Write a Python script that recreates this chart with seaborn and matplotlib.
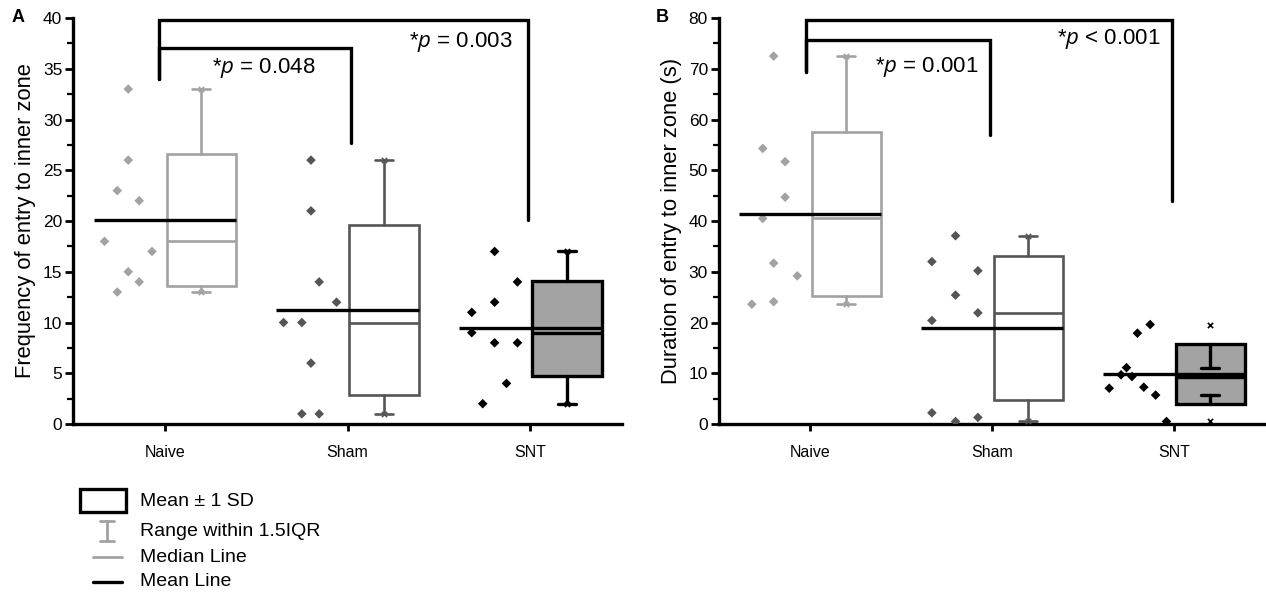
import seaborn as sns
import matplotlib.pyplot as plt
import pandas as pd
import numpy as np
from matplotlib.patches import Rectangle
from matplotlib.ticker import MultipleLocator

groups = ['Naive', 'Sham', 'SNT']

# Panel A: frequency of entry to inner zone
freq_naive = [33, 26, 23, 22, 18, 17, 15, 14, 13]
freq_sham = [26, 21, 14, 12, 10, 10, 6, 1, 1]
freq_snt = [17, 14, 12, 11, 9, 8, 8, 4, 2]

# Panel B: duration of entry to inner zone (s)
dur_naive = [72.5, 54.3, 51.7, 44.7, 40.5, 31.7, 29.2, 24.1, 23.6]
dur_sham = [37.1, 32.0, 30.2, 25.4, 21.9, 20.4, 2.2, 1.3, 0.5]
dur_snt = [19.6, 17.9, 11.1, 9.7, 9.35, 7.25, 7.05, 5.7, 0.5]

# horizontal spread of the raw points (left of each box)
jit_freq_naive = [-0.20, -0.20, -0.26, -0.14, -0.33, -0.07, -0.20, -0.14, -0.26]
jit_freq_sham = [-0.20, -0.20, -0.155, -0.06, -0.35, -0.25, -0.20, -0.25, -0.155]
jit_freq_snt = [-0.195, -0.07, -0.195, -0.32, -0.32, -0.195, -0.07, -0.13, -0.26]
jit_dur_naive = [-0.20, -0.26, -0.137, -0.137, -0.26, -0.20, -0.07, -0.20, -0.32]
jit_dur_sham = [-0.20, -0.33, -0.077, -0.20, -0.077, -0.33, -0.33, -0.077, -0.20]
jit_dur_snt = [-0.13, -0.20, -0.26, -0.29, -0.23, -0.165, -0.355, -0.10, -0.04]

p_labels_a = ['*$p$ = 0.048', '*$p$ = 0.003']
p_labels_b = ['*$p$ = 0.001', '*$p$ < 0.001']

sns.set_style("white")
plt.rcParams['font.family'] = ['Liberation Sans', 'DejaVu Sans']
plt.rcParams['mathtext.fontset'] = 'custom'
plt.rcParams['mathtext.it'] = 'Open Sans:italic'
plt.rcParams['mathtext.rm'] = 'Open Sans'
for key in ['text.color', 'axes.labelcolor', 'xtick.color', 'ytick.color']:
    plt.rcParams[key] = 'black'

LIGHT, DARK, BLACK = '#a2a2a2', '#555555', '#000000'
edge_cols = [LIGHT, DARK, BLACK]
face_cols = ['white', 'white', '#a3a3a3']
pt_cols = [LIGHT, DARK, BLACK]


def box_stats(vals):
    v = np.asarray(vals, float)
    m, sd = v.mean(), v.std(ddof=1)
    q1, q3 = np.percentile(v, [25, 75])
    iqr = q3 - q1
    inside = v[(v >= q1 - 1.5 * iqr) & (v <= q3 + 1.5 * iqr)]
    return dict(med=np.median(v), q1=m - sd, q3=m + sd, mean=m,
                whislo=inside.min(), whishi=inside.max(), fliers=[])


def draw_panel(ax, series, jitters, ymax, major, ylabel):
    rows = []
    for i, (vals, jit) in enumerate(zip(series, jitters)):
        for v, j in zip(vals, jit):
            rows.append(dict(x=i + j, y=v, group=groups[i]))
    df = pd.DataFrame(rows)
    sns.scatterplot(data=df, x='x', y='y', hue='group', palette=pt_cols,
                    marker='D', s=24, edgecolor='none', legend=False,
                    ax=ax, zorder=3)
    for i, vals in enumerate(series):
        st = box_stats(vals)
        ec = edge_cols[i]
        lw = 2.4 if i == 2 else 1.9
        ax.bxp([st], positions=[i + 0.2], widths=0.38, patch_artist=True,
               showfliers=False, capwidths=0.1,
               boxprops=dict(facecolor=face_cols[i], edgecolor=ec, linewidth=lw),
               whiskerprops=dict(color=ec, linewidth=lw),
               capprops=dict(color=ec, linewidth=lw),
               medianprops=dict(color=ec, linewidth=lw),
               manage_ticks=False, zorder=2)
        v = np.asarray(vals, float)
        ax.scatter([i + 0.2, i + 0.2], [v.min(), v.max()], marker='x',
                   s=14, color=ec, linewidths=1.2, zorder=4)
        ax.hlines(st['mean'], i - 0.39, i + 0.39, color=BLACK, linewidth=2.4, zorder=5)

    ax.set_xlim(-0.5, 2.5)
    ax.set_ylim(0, ymax)
    ax.set_xticks(range(3))
    ax.set_xticklabels(groups, fontsize=11.5)
    ax.yaxis.set_major_locator(MultipleLocator(major))
    ax.yaxis.set_minor_locator(MultipleLocator(major / 2))
    ax.tick_params(axis='y', which='major', direction='out', length=6, width=2,
                   labelsize=12.5, pad=2, left=True)
    ax.tick_params(axis='y', which='minor', direction='out', length=4, width=1.6, left=True)
    ax.tick_params(axis='x', which='major', direction='out', length=5, width=2,
                   pad=10, bottom=True)
    ax.set_xlabel('')
    ax.set_ylabel(ylabel, fontsize=15.8, labelpad=5)
    for side in ['top', 'right']:
        ax.spines[side].set_visible(False)
    for side in ['left', 'bottom']:
        ax.spines[side].set_linewidth(2.4)
        ax.spines[side].set_color(BLACK)


def bracket(ax, x0, x1, y, y0, y1):
    ax.plot([x0, x0, x1, x1], [y0, y, y, y1], color=BLACK, linewidth=2.4,
            clip_on=False, solid_joinstyle='miter', zorder=6)


fig = plt.figure(figsize=(12.66, 5.95), dpi=100)

# legend drawn in figure pixel space
lax = fig.add_axes([0, 0, 1, 1])
lax.set_xlim(0, 1266)
lax.set_ylim(595, 0)
lax.axis('off')
lax.add_patch(Rectangle((80, 489), 46, 23, facecolor='white', edgecolor=BLACK, linewidth=2.4))
lax.plot([107, 107], [521, 541], color=LIGHT, linewidth=2)
lax.plot([100, 114], [521, 521], color=LIGHT, linewidth=2)
lax.plot([100, 114], [541, 541], color=LIGHT, linewidth=2)
lax.plot([93, 122], [557, 557], color=LIGHT, linewidth=2)
lax.plot([93, 122], [582, 582], color=BLACK, linewidth=2.4)
for yy, txt in zip([501, 531, 557, 582],
                   ['Mean ± 1 SD', 'Range within 1.5IQR', 'Median Line', 'Mean Line']):
    lax.text(140, yy, txt, fontsize=14, va='center', ha='left')

axA = fig.add_axes([0.058, 0.2874, 0.433, 0.6823])
axB = fig.add_axes([0.568, 0.2874, 0.431, 0.6823])

draw_panel(axA, [freq_naive, freq_sham, freq_snt],
           [jit_freq_naive, jit_freq_sham, jit_freq_snt], 40, 5,
           'Frequency of entry to inner zone')
draw_panel(axB, [dur_naive, dur_sham, dur_snt],
           [jit_dur_naive, jit_dur_sham, jit_dur_snt], 80, 10,
           'Duration of entry to inner zone (s)')

bracket(axA, -0.03, 1.99, 39.8, 34.0, 20.1)
bracket(axA, -0.03, 1.02, 37.0, 34.0, 27.7)
axA.text(0.544, 35.1, p_labels_a[0], fontsize=16, ha='center', va='center')
axA.text(1.62, 37.6, p_labels_a[1], fontsize=16, ha='center', va='center')

bracket(axB, -0.02, 1.99, 79.6, 69.4, 43.9)
bracket(axB, -0.02, 0.99, 75.7, 69.4, 56.9)
axB.text(0.64, 70.3, p_labels_b[0], fontsize=16, ha='center', va='center')
axB.text(1.64, 75.9, p_labels_b[1], fontsize=16, ha='center', va='center')

fig.text(18 / 1266, 1 - 18 / 595, 'A', fontsize=13, fontweight='bold', va='center', ha='center')
fig.text(662 / 1266, 1 - 18 / 595, 'B', fontsize=13, fontweight='bold', va='center', ha='center')

plt.savefig('out.png', dpi=100)
plt.close()
